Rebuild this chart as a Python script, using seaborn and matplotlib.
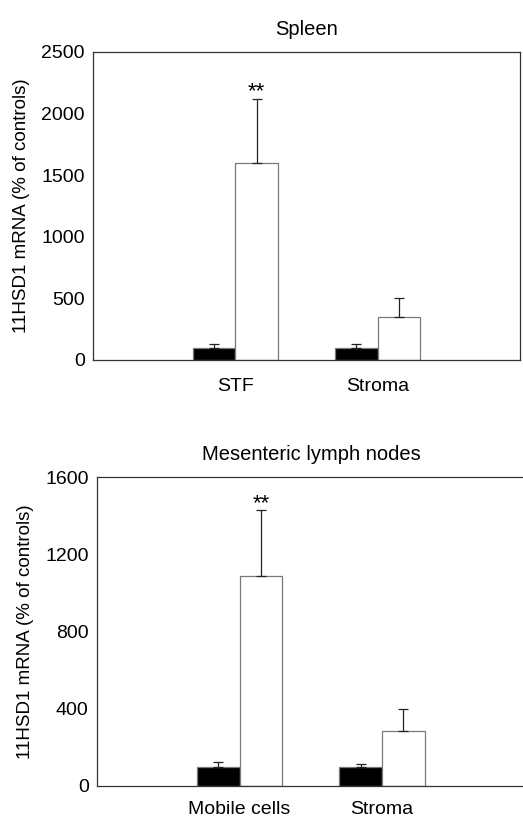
import matplotlib
matplotlib.use("Agg")
import matplotlib.pyplot as plt
import seaborn as sns
import pandas as pd
import numpy as np

sns.set_style("white")
plt.rcParams['font.family'] = ['Liberation Sans', 'DejaVu Sans']
plt.rcParams['text.color'] = 'black'
plt.rcParams['xtick.color'] = 'black'
plt.rcParams['ytick.color'] = 'black'
plt.rcParams['axes.labelcolor'] = 'black'

groups = ["Control", "Treated"]

spleen_cats = ["STF", "Stroma"]
spleen_control = [100, 100]
spleen_control_err = [30, 28]
spleen_treated = [1600, 345]
spleen_treated_err = [520, 158]

mln_cats = ["Mobile cells", "Stroma"]
mln_control = [100, 100]
mln_control_err = [22, 15]
mln_treated = [1085, 287]
mln_treated_err = [343, 113]

colors = ["#000000", "#ffffff"]


def panel(ax, cats, ctrl, ctrl_err, trt, trt_err, title, ymax, yticks, xmax,
          show_right=True, xpad=13):
    df = pd.DataFrame({
        "cat": cats + cats,
        "group": [groups[0]] * len(cats) + [groups[1]] * len(cats),
        "val": ctrl + trt,
    })
    sns.barplot(data=df, x="cat", y="val", hue="group", order=cats,
                hue_order=groups, palette=colors, width=0.6, dodge=True,
                edgecolor="#7a7a7a", linewidth=0.9, errorbar=None,
                legend=False, ax=ax)
    errs = ctrl_err + trt_err
    vals = ctrl + trt
    for p, v, e in zip(ax.patches, vals, errs):
        cx = p.get_x() + p.get_width() / 2
        ax.errorbar(cx, v, yerr=[[0], [e]], fmt="none", ecolor="#222222",
                    elinewidth=0.9, capsize=3.5, capthick=0.9, zorder=1)
    p = ax.patches[len(cats)]
    ax.text(p.get_x() + p.get_width() / 2, trt[0] + trt_err[0] - ymax * 0.012, "**",
            ha="center", va="bottom", fontsize=16, color="black")
    ax.set_xlim(-1, xmax)
    ax.set_ylim(0, ymax)
    ax.set_yticks(yticks)
    ax.set_yticklabels([str(t) for t in yticks], fontsize=14)
    ax.set_xticks(range(len(cats)))
    ax.set_xticklabels(cats, fontsize=14)
    ax.tick_params(axis="x", length=0, pad=xpad)
    ax.tick_params(axis="y", direction="in", length=3, width=0.8, color="#444444", pad=6)
    ax.set_xlabel("")
    ax.set_ylabel("11HSD1 mRNA (% of controls)", fontsize=13.5, labelpad=8)
    ax.set_title(title, fontsize=14.5, pad=12)
    for s in ["left", "bottom", "top", "right"]:
        ax.spines[s].set_color("#333333")
        ax.spines[s].set_linewidth(0.9)
    ax.spines["right"].set_visible(show_right)


fig = plt.figure(figsize=(5.23, 8.18), dpi=100)
W, H = 523, 818
ax1 = fig.add_axes([93 / W, 1 - 360 / H, (520 - 93) / W, (360 - 52) / H])
ax2 = fig.add_axes([97 / W, 1 - 786 / H, (525 - 97) / W, (786 - 477) / H])

panel(ax1, spleen_cats, spleen_control, spleen_control_err, spleen_treated,
      spleen_treated_err, "Spleen", 2500, [0, 500, 1000, 1500, 2000, 2500], 2.0)
panel(ax2, mln_cats, mln_control, mln_control_err, mln_treated,
      mln_treated_err, "Mesenteric lymph nodes", 1600, [0, 400, 800, 1200, 1600],
      -1 + (525 - 97) / 142.5, show_right=False, xpad=11)

fig.savefig("out.png", dpi=100, facecolor="white")
